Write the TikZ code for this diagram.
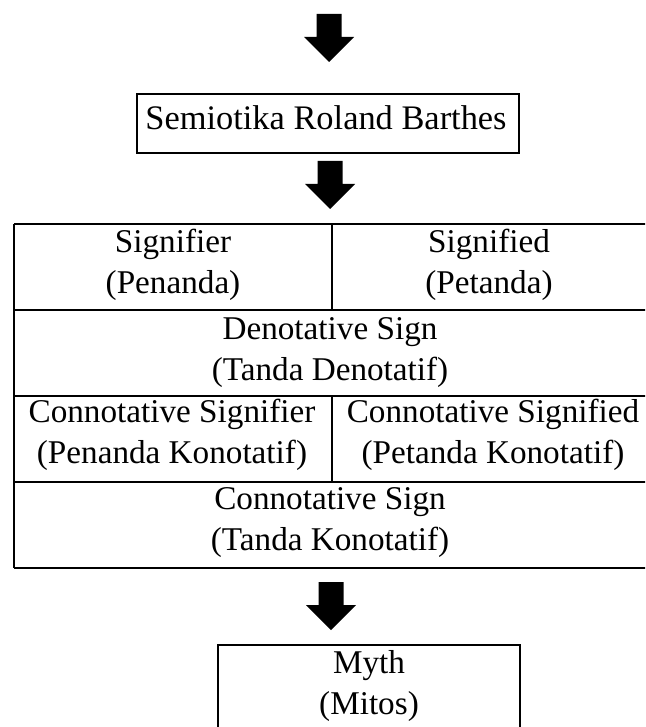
\documentclass[tikz,border=0pt]{standalone}
\usepackage{fontspec}
\setmainfont{Liberation Serif}

\begin{document}
\begin{tikzpicture}[x=0.5pt,y=-0.5pt,line width=1.3pt,
  every node/.style={font=\fontsize{16.6}{20.5}\selectfont},
  cell/.style={align=center,inner sep=0pt}]
\useasboundingbox (0,0) rectangle (645,727);
\clip (0,0) rectangle (645,727);
\pgfmathsetmacro\tl{14}
\pgfmathsetmacro\tr{647}
\pgfmathsetmacro\tc{332}

% block arrows between the parts (base of the head at each point)
\coordinate (arrA) at (329,37);
\coordinate (arrB) at (330,184);
\coordinate (arrC) at (331,605);
\foreach \a in {arrA,arrB,arrC} {
  \fill[black] (\a) ++(-12.5,0) -- ++(0,-23) -- ++(25,0) -- ++(0,23)
    -- ++(12.5,0) -- ++(-25,25) -- ++(-25,-25) -- cycle;
}

% top box
\draw (137,94) rectangle (519,153);
\node[cell,font=\fontsize{17.2}{20.5}\selectfont] (barthes) at (326,118) {Semiotika Roland Barthes};

% table
\foreach \y in {224,310,396,482,568} {
  \draw (\tl,\y) -- (\tr,\y);
}
\draw (\tl,224) -- (\tl,568);
\draw (\tr,224) -- (\tr,568);
\draw (\tc,224) -- (\tc,310);
\draw (\tc,396) -- (\tc,482);

\node[cell] (signifier) at (173,265) {Signifier\\(Penanda)};
\node[cell] (signified) at (489,265) {Signified\\(Petanda)};
\node[cell] (denotative) at (330,353) {Denotative Sign\\(Tanda Denotatif)};
\node[cell] (csignifier) at (172,435) {Connotative Signifier\\(Penanda Konotatif)};
\node[cell] (csignified) at (493,435) {Connotative Signified\\(Petanda Konotatif)};
\node[cell] (connotative) at (330,523) {Connotative Sign\\(Tanda Konotatif)};

% bottom box
\draw (218,645) rectangle (520,770);
\node[cell] (myth) at (369,686) {Myth\\(Mitos)};
\end{tikzpicture}
\end{document}
